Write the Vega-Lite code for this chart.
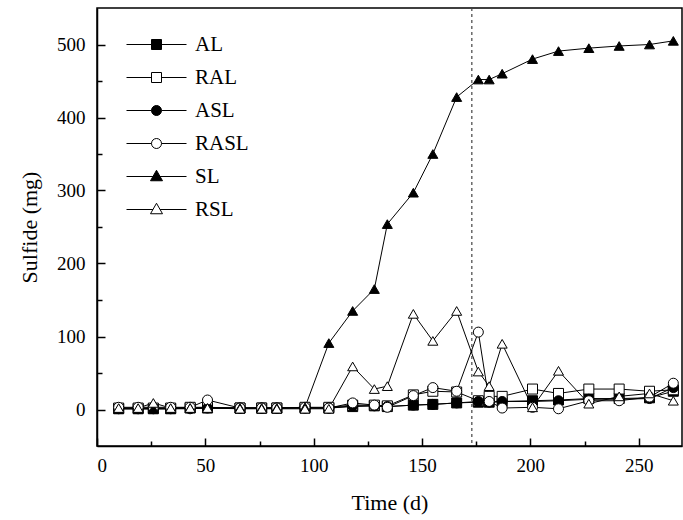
{
  "$schema": "https://vega.github.io/schema/vega-lite/v6.json",
  "width": 585,
  "height": 438,
  "autosize": "none",
  "padding": {"left": 97, "top": 8, "right": 1, "bottom": 74},
  "background": "white",
  "config": {
    "view": {"stroke": "black", "strokeWidth": 1.5},
    "font": "Liberation Serif",
    "axis": {"labelFont": "Liberation Serif", "titleFont": "Liberation Serif", "labelColor": "black", "titleColor": "black", "titleFontWeight": "normal", "domainColor": "black", "domainWidth": 1.5, "tickColor": "black", "tickWidth": 1.5, "grid": false, "labelFontSize": 19, "titleFontSize": 22}
  },
  "datasets": {
    "d": [
      {"t":10,"s":"AL","v":1},{"t":19,"s":"AL","v":1},{"t":26,"s":"AL","v":1},{"t":34,"s":"AL","v":1},{"t":43,"s":"AL","v":2},{"t":51,"s":"AL","v":2},{"t":66,"s":"AL","v":2},{"t":76,"s":"AL","v":2},{"t":83,"s":"AL","v":2},{"t":96,"s":"AL","v":2},{"t":107,"s":"AL","v":2},{"t":118,"s":"AL","v":4},{"t":128,"s":"AL","v":5},{"t":134,"s":"AL","v":4},{"t":146,"s":"AL","v":6},{"t":155,"s":"AL","v":7},{"t":166,"s":"AL","v":9},{"t":176,"s":"AL","v":10},{"t":181,"s":"AL","v":10},{"t":187,"s":"AL","v":11},{"t":201,"s":"AL","v":12},{"t":213,"s":"AL","v":13},{"t":227,"s":"AL","v":15},{"t":241,"s":"AL","v":15},{"t":255,"s":"AL","v":16},{"t":266,"s":"AL","v":25},
      {"t":10,"s":"RAL","v":2},{"t":19,"s":"RAL","v":2},{"t":26,"s":"RAL","v":2},{"t":34,"s":"RAL","v":2},{"t":43,"s":"RAL","v":3},{"t":51,"s":"RAL","v":3},{"t":66,"s":"RAL","v":2},{"t":76,"s":"RAL","v":2},{"t":83,"s":"RAL","v":2},{"t":96,"s":"RAL","v":3},{"t":107,"s":"RAL","v":3},{"t":118,"s":"RAL","v":6},{"t":128,"s":"RAL","v":6},{"t":134,"s":"RAL","v":5},{"t":146,"s":"RAL","v":20},{"t":155,"s":"RAL","v":25},{"t":166,"s":"RAL","v":24},{"t":176,"s":"RAL","v":12},{"t":181,"s":"RAL","v":18},{"t":187,"s":"RAL","v":18},{"t":201,"s":"RAL","v":28},{"t":213,"s":"RAL","v":22},{"t":227,"s":"RAL","v":28},{"t":241,"s":"RAL","v":28},{"t":255,"s":"RAL","v":25},{"t":266,"s":"RAL","v":27},
      {"t":10,"s":"ASL","v":1},{"t":19,"s":"ASL","v":1},{"t":26,"s":"ASL","v":1},{"t":34,"s":"ASL","v":1},{"t":43,"s":"ASL","v":1},{"t":51,"s":"ASL","v":2},{"t":66,"s":"ASL","v":2},{"t":76,"s":"ASL","v":2},{"t":83,"s":"ASL","v":2},{"t":96,"s":"ASL","v":2},{"t":107,"s":"ASL","v":2},{"t":118,"s":"ASL","v":5},{"t":128,"s":"ASL","v":5},{"t":134,"s":"ASL","v":4},{"t":146,"s":"ASL","v":6},{"t":155,"s":"ASL","v":7},{"t":166,"s":"ASL","v":9},{"t":176,"s":"ASL","v":11},{"t":181,"s":"ASL","v":10},{"t":187,"s":"ASL","v":11},{"t":201,"s":"ASL","v":11},{"t":213,"s":"ASL","v":12},{"t":227,"s":"ASL","v":14},{"t":241,"s":"ASL","v":14},{"t":255,"s":"ASL","v":15},{"t":266,"s":"ASL","v":30},
      {"t":10,"s":"RASL","v":3},{"t":19,"s":"RASL","v":3},{"t":26,"s":"RASL","v":3},{"t":34,"s":"RASL","v":3},{"t":43,"s":"RASL","v":3},{"t":51,"s":"RASL","v":13},{"t":66,"s":"RASL","v":2},{"t":76,"s":"RASL","v":2},{"t":83,"s":"RASL","v":2},{"t":96,"s":"RASL","v":3},{"t":107,"s":"RASL","v":2},{"t":118,"s":"RASL","v":9},{"t":128,"s":"RASL","v":6},{"t":134,"s":"RASL","v":3},{"t":146,"s":"RASL","v":19},{"t":155,"s":"RASL","v":30},{"t":166,"s":"RASL","v":25},{"t":176,"s":"RASL","v":106},{"t":181,"s":"RASL","v":11},{"t":187,"s":"RASL","v":2},{"t":201,"s":"RASL","v":3},{"t":213,"s":"RASL","v":1},{"t":227,"s":"RASL","v":12},{"t":241,"s":"RASL","v":12},{"t":255,"s":"RASL","v":17},{"t":266,"s":"RASL","v":36},
      {"t":10,"s":"SL","v":1},{"t":19,"s":"SL","v":1},{"t":26,"s":"SL","v":1},{"t":34,"s":"SL","v":1},{"t":43,"s":"SL","v":2},{"t":51,"s":"SL","v":2},{"t":66,"s":"SL","v":2},{"t":76,"s":"SL","v":2},{"t":83,"s":"SL","v":2},{"t":96,"s":"SL","v":3},{"t":107,"s":"SL","v":91},{"t":118,"s":"SL","v":135},{"t":128,"s":"SL","v":165},{"t":134,"s":"SL","v":254},{"t":146,"s":"SL","v":297},{"t":155,"s":"SL","v":350},{"t":166,"s":"SL","v":428},{"t":176,"s":"SL","v":452},{"t":181,"s":"SL","v":452},{"t":187,"s":"SL","v":460},{"t":201,"s":"SL","v":480},{"t":213,"s":"SL","v":491},{"t":227,"s":"SL","v":495},{"t":241,"s":"SL","v":498},{"t":255,"s":"SL","v":500},{"t":266,"s":"SL","v":505},
      {"t":10,"s":"RSL","v":2},{"t":19,"s":"RSL","v":2},{"t":26,"s":"RSL","v":9},{"t":34,"s":"RSL","v":2},{"t":43,"s":"RSL","v":2},{"t":51,"s":"RSL","v":2},{"t":66,"s":"RSL","v":1},{"t":76,"s":"RSL","v":1},{"t":83,"s":"RSL","v":1},{"t":96,"s":"RSL","v":1},{"t":107,"s":"RSL","v":1},{"t":118,"s":"RSL","v":59},{"t":128,"s":"RSL","v":28},{"t":134,"s":"RSL","v":32},{"t":146,"s":"RSL","v":131},{"t":155,"s":"RSL","v":94},{"t":166,"s":"RSL","v":135},{"t":176,"s":"RSL","v":52},{"t":181,"s":"RSL","v":32},{"t":187,"s":"RSL","v":90},{"t":201,"s":"RSL","v":3},{"t":213,"s":"RSL","v":53},{"t":227,"s":"RSL","v":8},{"t":241,"s":"RSL","v":18},{"t":255,"s":"RSL","v":22},{"t":266,"s":"RSL","v":12}
    ],
    "ref": [{"t": 173}]
  },
  "resolve": {"scale": {"shape": "independent", "fill": "independent", "stroke": "independent", "size": "independent"}},
  "layer": [
    {
      "data": {"name": "ref"},
      "mark": {"type": "rule", "color": "#444", "strokeDash": [3, 3], "strokeWidth": 1.2},
      "encoding": {"x": {"field": "t", "type": "quantitative"}}
    },
    {
      "data": {"name": "d"},
      "mark": {"type": "line", "color": "black", "strokeWidth": 1},
      "encoding": {
        "x": {"field": "t", "type": "quantitative"},
        "y": {"field": "v", "type": "quantitative"},
        "detail": {"field": "s"},
        "order": {"field": "t"}
      }
    },
    {
      "data": {"name": "d"},
      "mark": {"type": "point", "filled": true, "stroke": "black", "strokeWidth": 1, "opacity": 1},
      "encoding": {
        "x": {
          "field": "t", "type": "quantitative",
          "scale": {"domain": [0, 270], "nice": false, "zero": false},
          "axis": {
            "title": "Time (d)",
            "values": [0, 25, 50, 75, 100, 125, 150, 175, 200, 225, 250],
            "labelExpr": "datum.value % 50 === 0 ? datum.label : ''",
            "labelOverlap": false,
            "tickSize": {"condition": {"test": "datum.value % 50 === 0", "value": -8}, "value": -5},
            "labelPadding": 18,
            "titlePadding": 14
          }
        },
        "y": {
          "field": "v", "type": "quantitative",
          "scale": {"domain": [-50, 550], "nice": false, "zero": false},
          "axis": {
            "title": "Sulfide (mg)",
            "values": [0, 50, 100, 150, 200, 250, 300, 350, 400, 450, 500],
            "labelExpr": "datum.value % 100 === 0 ? datum.label : ''",
            "labelOverlap": false,
            "tickSize": {"condition": {"test": "datum.value % 100 === 0", "value": -8}, "value": -5},
            "labelPadding": 20,
            "titlePadding": 15
          }
        },
        "size": {
          "field": "s", "type": "nominal",
          "scale": {"domain": ["AL", "RAL", "ASL", "RASL", "SL", "RSL"], "range": [100, 100, 115, 115, 150, 150]},
          "legend": null
        },
        "shape": {
          "field": "s", "type": "nominal",
          "scale": {"domain": ["AL", "RAL", "ASL", "RASL", "SL", "RSL"], "range": ["square", "square", "circle", "circle", "triangle-up", "triangle-up"]},
          "legend": null
        },
        "fill": {
          "field": "s", "type": "nominal",
          "scale": {"domain": ["AL", "RAL", "ASL", "RASL", "SL", "RSL"], "range": ["black", "white", "black", "white", "black", "white"]},
          "legend": null
        }
      }
    },
    {
      "data": {"name": "d"},
      "transform": [{"filter": "datum.v < -1000"}],
      "mark": {"type": "point", "filled": true, "strokeWidth": 1, "size": 100},
      "encoding": {
        "x": {"field": "t", "type": "quantitative"},
        "y": {"field": "v", "type": "quantitative"},
        "shape": {
          "field": "s", "type": "nominal",
          "scale": {"domain": ["AL", "RAL", "ASL", "RASL", "SL", "RSL"], "range": ["M-6,0H-1M1,0H6M-1,-1H1V1H-1Z", "M-6,0H-1M1,0H6M-1,-1H1V1H-1Z", "M-6,0H-1M1,0H6M1,0A1,1,0,1,1,-1,0A1,1,0,1,1,1,0Z", "M-6,0H-1M1,0H6M1,0A1,1,0,1,1,-1,0A1,1,0,1,1,1,0Z", "M-6,0H-0.71M0.71,0H6M0,-1.25L1.2,0.85H-1.2Z", "M-6,0H-0.71M0.71,0H6M0,-1.25L1.2,0.85H-1.2Z"]},
          "legend": {
            "title": null, "orient": "none", "legendX": 49, "legendY": 26, "padding": 0,
            "labelFont": "Liberation Serif", "labelFontSize": 21, "labelColor": "black",
            "labelOffset": 28, "rowPadding": 11, "symbolSize": 100, "symbolStrokeWidth": 1, "symbolOpacity": 1
          }
        },
        "fill": {
          "field": "s", "type": "nominal",
          "scale": {"domain": ["AL", "RAL", "ASL", "RASL", "SL", "RSL"], "range": ["black", "white", "black", "white", "black", "white"]},
          "legend": {
            "title": null, "orient": "none", "legendX": 49, "legendY": 26, "padding": 0,
            "labelFont": "Liberation Serif", "labelFontSize": 21, "labelColor": "black",
            "labelOffset": 28, "rowPadding": 11, "symbolSize": 100, "symbolStrokeWidth": 1, "symbolOpacity": 1
          }
        },
        "stroke": {
          "field": "s", "type": "nominal",
          "scale": {"domain": ["AL", "RAL", "ASL", "RASL", "SL", "RSL"], "range": ["black", "black", "black", "black", "black", "black"]},
          "legend": {
            "title": null, "orient": "none", "legendX": 49, "legendY": 26, "padding": 0,
            "labelFont": "Liberation Serif", "labelFontSize": 21, "labelColor": "black",
            "labelOffset": 28, "rowPadding": 11, "symbolSize": 100, "symbolStrokeWidth": 1, "symbolOpacity": 1
          }
        }
      }
    }
  ]
}
